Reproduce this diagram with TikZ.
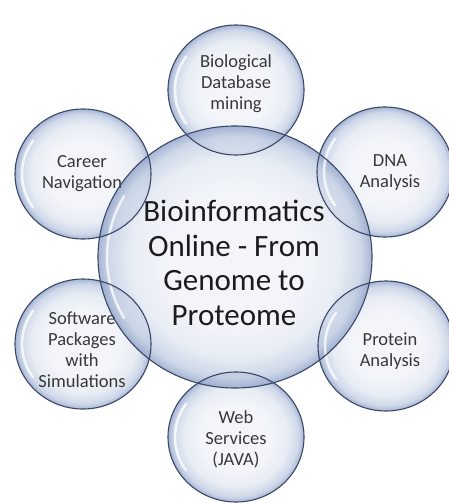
\documentclass[tikz,border=0pt]{standalone}
\usepackage{fontspec}
\setmainfont{Carlito}
\usetikzlibrary{shapes.geometric}
\definecolor{bc1}{HTML}{F0F3F8}
\definecolor{bc2}{HTML}{E3E9F2}
\definecolor{bc3}{HTML}{C2CEE3}
\definecolor{bc4}{HTML}{8FA3C9}
\definecolor{rimcol}{HTML}{3C4868}
\definecolor{smallcol}{HTML}{383838}
\definecolor{bigcol}{HTML}{1C1C1C}
\pgfdeclareradialshading{bubble}{\pgfpoint{0bp}{0bp}}{color(0bp)=(bc1); color(12bp)=(bc1); color(19bp)=(bc2); color(23bp)=(bc3); color(25bp)=(bc4); color(50bp)=(bc4)}
\begin{document}
\begin{tikzpicture}[x=1pt,y=-1pt,
  bubble/.style={ellipse, inner sep=0pt, shade, shading=bubble, fill opacity=0.8},
  smallbub/.style={bubble, minimum width=136pt, minimum height=130pt},
  bigbub/.style={bubble, minimum width=274pt, minimum height=262pt},
  rim/.style={draw=rimcol, line width=1.1pt},
  hl/.style={draw=white, line width=2.5pt, opacity=0.75, line cap=round},
  smalltxt/.style={align=center, inner sep=0pt, font=\fontsize{18.5}{21}\selectfont, text=smallcol},
  bigtxt/.style={align=center, inner sep=0pt, font=\fontsize{31}{34.5}\selectfont, text=bigcol}]
\useasboundingbox (0,0) rectangle (449,503);
% fills
\node[smallbub] (ctop) at (236,90) {};
\node[smallbub] (cdna) at (385,172) {};
\node[smallbub] (ccar) at (83,174) {};
\node[smallbub] (csw) at (83,344) {};
\node[smallbub] (cpro) at (386,346) {};
\node[smallbub] (cweb) at (236,437) {};
\node[bigbub] (cbig) at (235,257) {};
% highlights
\foreach \c in {ctop,cdna,ccar,csw,cpro,cweb}{
  \draw[hl] (\c.center) ++(145:61 and 58) arc[start angle=145, end angle=215, x radius=61, y radius=58];
}
\draw[hl] (cbig.center) ++(150:128 and 122) arc[start angle=150, end angle=210, x radius=128, y radius=122];
% small texts
\node[smalltxt] (ttop) at (236,84) {Biological\\Database\\mining};
\node[smalltxt] (tdna) at (390,173) {DNA\\Analysis};
\node[smalltxt] (tcar) at (82,174) {Career\\Navigation};
\node[smalltxt] (tsw) at (82,350) {Software\\Packages\\with\\Simulations};
\node[smalltxt] (tpro) at (390,351) {Protein\\Analysis};
\node[smalltxt] (tweb) at (236,439) {Web\\Services\\(JAVA)};
% rims
\foreach \c in {ctop,cdna,ccar,csw,cpro,cweb}{
  \draw[rim] (\c.center) ellipse[x radius=68, y radius=65];
}
\draw[rim] (cbig.center) ellipse[x radius=137, y radius=131];
% big text
\node[bigtxt] (tbig) at (234,263) {Bioinformatics\\Online - From\\Genome to\\Proteome};
\end{tikzpicture}
\end{document}
